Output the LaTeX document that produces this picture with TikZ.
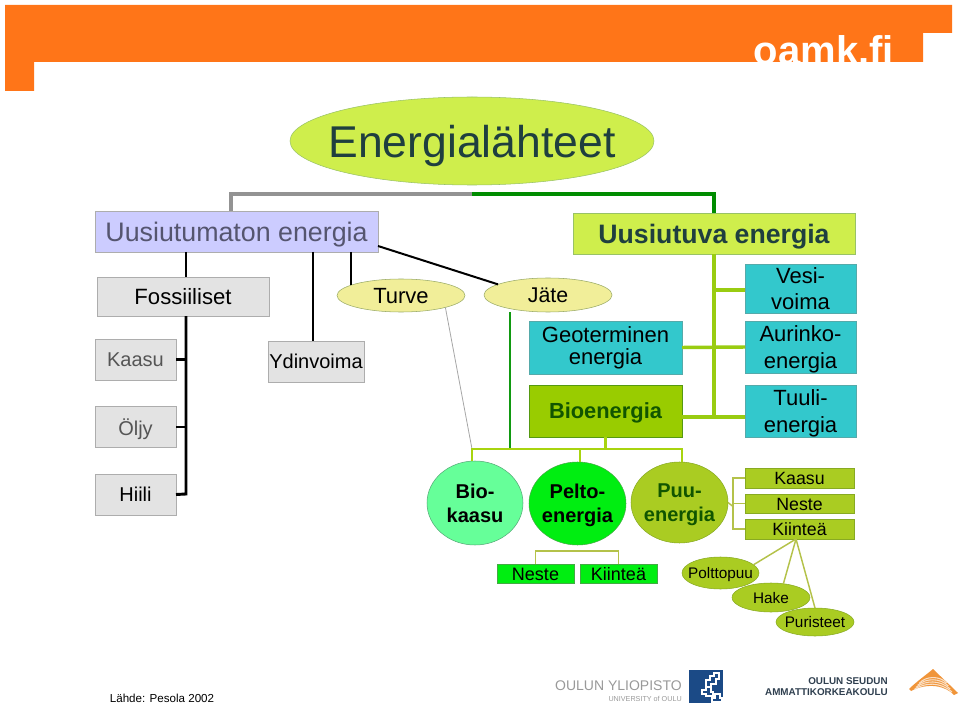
\documentclass[tikz,border=0pt]{standalone}
\usepackage{fontspec}
\setmainfont{Liberation Sans}
\usepackage{tikz}
\usetikzlibrary{shapes.geometric}

\definecolor{bannerorange}{HTML}{FF7518}
\definecolor{limefill}{HTML}{CFEE4C}
\definecolor{limeedge}{HTML}{99C266}
\definecolor{darktext}{HTML}{1F3F3F}
\definecolor{lilacfill}{HTML}{CCCCFF}
\definecolor{lilactext}{HTML}{55556F}
\definecolor{greyfill}{HTML}{E3E3E3}
\definecolor{greyedge}{HTML}{ADADAD}
\definecolor{greytext}{HTML}{555555}
\definecolor{paleyellow}{HTML}{F1EE99}
\definecolor{yellowedge}{HTML}{99AA66}
\definecolor{tealfill}{HTML}{33C8CC}
\definecolor{tealedge}{HTML}{55AAAA}
\definecolor{biofill}{HTML}{99CC00}
\definecolor{bioedge}{HTML}{559911}
\definecolor{biotext}{HTML}{115500}
\definecolor{gasfill}{HTML}{66FF99}
\definecolor{gasedge}{HTML}{55AA77}
\definecolor{fieldfill}{HTML}{00EE11}
\definecolor{fieldedge}{HTML}{44AA44}
\definecolor{woodfill}{HTML}{AACC22}
\definecolor{woodedge}{HTML}{88AA22}
\definecolor{trunkgreen}{HTML}{99CC11}
\definecolor{darkgreen}{HTML}{119911}
\definecolor{olivecolor}{HTML}{B4C24A}
\definecolor{blueblock}{HTML}{1B4A86}
\definecolor{logogrey}{HTML}{999999}
\definecolor{logodark}{HTML}{2F3F4F}
\definecolor{swoosh}{HTML}{F0953A}

\tikzset{
    wh/.style 2 args={minimum width=#1*0.75pt, minimum height=#2*0.75pt},
    basebox/.style={draw, inner sep=0pt, outer sep=0pt, align=center, text depth=0pt},
    baseoval/.style={basebox, ellipse, inner xsep=-60pt, inner ysep=-30pt},
    greybox/.style={basebox, draw=greyedge, fill=greyfill},
    tealbox/.style={basebox, draw=tealedge, fill=tealfill, text=black,
        font=\fontsize{16.5}{20.2}\selectfont},
    woodbox/.style={basebox, draw=woodedge, fill=woodfill, text height=10pt, font=\fontsize{13.3}{15}\selectfont},
    fieldbox/.style={basebox, draw=fieldedge, fill=fieldfill, text height=10pt, font=\fontsize{13.5}{15}\selectfont},
    bigoval/.style={baseoval, font=\fontsize{15}{18}\selectfont\bfseries},
    woodoval/.style={baseoval, draw=woodedge, fill=woodfill, font=\fontsize{11.5}{13}\selectfont},
    yellowoval/.style={baseoval, draw=yellowedge, fill=paleyellow, font=\fontsize{16.5}{19}\selectfont},
    blackline/.style={line width=2.2pt, black},
    thinblack/.style={line width=1.5pt, black},
    limeline/.style={line width=2.6pt, trunkgreen},
    oliverule/.style={line width=1.1pt, olivecolor}
}

\begin{document}
\begin{tikzpicture}[x=0.75pt, y=-0.75pt]
    \useasboundingbox (0,0) rectangle (960,709);
    \fill [bannerorange] (5,5)--(952,5)--(952,33)--(923,33)--(923,62)--(34,62)--(34,91)--(5,91)--cycle;
    \node [anchor=base, text=white, font=\fontsize{30}{30}\selectfont\bfseries, inner sep=0pt] (oamk) at (824,65) {oamk.fi};

    \node [baseoval, draw=limeedge, fill=limefill, text=darktext, wh={364}{88}, font=\fontsize{33.4}{36}\selectfont] (title) at (472,141) {Energialähteet};

    \node [basebox, draw=greyedge, fill=lilacfill, text=lilactext, wh={283}{41}, font=\fontsize{20.1}{24}\selectfont] (uusiutumaton) at (236.5,231.5) {Uusiutumaton energia};
    \node [basebox, draw=limeedge, fill=limefill, text=darktext, wh={282}{41}, font=\fontsize{20}{24}\selectfont\bfseries] (uusiutuva) at (714,233.5) {Uusiutuva energia};

    \node [greybox, wh={172}{39}, font=\fontsize{16.6}{20}\selectfont] (fossiiliset) at (183,296.5) {Fossiiliset};
    \node [greybox, text=greytext, wh={81}{41}, font=\fontsize{15}{18}\selectfont] (kaasuleft) at (135.5,359.5) {Kaasu};
    \node [greybox, text=greytext, wh={81}{41}, font=\fontsize{15}{18}\selectfont] (oljy) at (135.5,427) {Öljy};
    \node [greybox, wh={81}{41}, font=\fontsize{15}{18}\selectfont] (hiili) at (135.5,494.5) {Hiili};
    \node [greybox, wh={96}{41}, font=\fontsize{15}{18}\selectfont] (ydinvoima) at (316,361.5) {Ydinvoima};
    \node [yellowoval, wh={128}{33}] (turve) at (401,295.5) {Turve};
    \node [yellowoval, wh={128}{34}, font=\fontsize{16}{19}\selectfont] (jate) at (548,295) {Jäte};

    \node [tealbox, wh={153}{53}, text depth=3pt, font=\fontsize{16.5}{15.8}\selectfont] (geoterminen) at (605.5,347.5) {Geoterminen\\energia};
    \node [basebox, draw=bioedge, fill=biofill, text=biotext, wh={153}{52}, font=\fontsize{16.4}{20}\selectfont\bfseries] (bioenergia) at (605.5,411) {Bioenergia};
    \node [tealbox, wh={111}{49}] (vesi) at (800.5,288.5) {Vesi-\\voima};
    \node [tealbox, wh={111}{52}] (aurinko) at (800.5,347) {Aurinko-\\energia};
    \node [tealbox, wh={111}{52}] (tuuli) at (800.5,411) {Tuuli-\\energia};

    \node [bigoval, draw=gasedge, fill=gasfill, text=black, wh={96}{84}] (biokaasu) at (475,503) {Bio-\\kaasu};
    \node [bigoval, draw=fieldedge, fill=fieldfill, text=black, wh={97}{83}] (pelto) at (577.5,503.5) {Pelto-\\energia};
    \node [bigoval, draw=woodedge, fill=woodfill, text=biotext, wh={97}{81}] (puu) at (679.5,502.5) {Puu-\\energia};

    \node [woodbox, wh={109}{20}] (kaasuright) at (799.5,478) {Kaasu};
    \node [woodbox, wh={109}{19}] (nesteright) at (799.5,503.5) {Neste};
    \node [woodbox, wh={109}{20}] (kiinteawood) at (799.5,529) {Kiinteä};
    \node [fieldbox, wh={77}{19}] (nestefield) at (535.5,573.5) {Neste};
    \node [fieldbox, wh={77}{19}] (kiinteafield) at (618.5,573.5) {Kiinteä};

    \node [woodoval, wh={77}{32}] (polttopuu) at (720.5,573) {Polttopuu};
    \node [woodoval, wh={78}{29}] (hake) at (771,597.5) {Hake};
    \node [woodoval, wh={78}{28}] (puristeet) at (815,622) {Puristeet};

    \coordinate (fossbus) at (186,494);
    \coordinate (ydinbus) at (313,300);
    \coordinate (turvebus) at (351,285);
    \coordinate (biobus) at (714,417);
    \coordinate (vesibus) at (714,290);
    \coordinate (jatebus) at (510,449);
    \coordinate (brackettop) at (472,449);
    \coordinate (woodbus) at (733,506.5);
    \coordinate (fieldbar) at (577,551);
    \coordinate (kiintearoot) at (796,539);

    \draw [line width=2.4pt, gray!85] (uusiutumaton.north -| 231,0)--(231,194)--(472,194);
    \draw [line width=2.4pt, green!55!black] (472,194)--(714,194)--(uusiutuva.north);

    \draw [blackline] (uusiutumaton.south -| fossbus)--(fossiiliset.north -| fossbus);
    \draw [blackline] (fossiiliset.south -| fossbus)--(fossbus)--(hiili.east);
    \draw [blackline] (kaasuleft.east) -- (kaasuleft.east -| fossbus);
    \draw [blackline] (oljy.east) -- (oljy.east -| fossbus);
    \draw [blackline] (uusiutumaton.south -| ydinbus)--(ydinvoima.north -| ydinbus);
    \draw [thinblack] (uusiutumaton.south -| turvebus)--(turvebus);
    \draw [thinblack] (uusiutumaton.south east)++(0,-6)--(jate.168);

    \draw [limeline] (uusiutuva.south)--(biobus);
    \draw [limeline] (vesi.west |- vesibus)--(vesibus);
    \draw [limeline] (geoterminen.east)--(aurinko.west);
    \draw [limeline] (bioenergia.east |- biobus)--(tuuli.west |- biobus);

    \draw [line width=.6pt, gray!70] (turve.-15)--(brackettop);
    \draw [line width=1.2pt, darkgreen] (jate.south -| jatebus)--(jatebus);
    \draw [line width=1.8pt, trunkgreen!85!yellow] (biokaasu.north -| brackettop)--(brackettop)--(682,449)--(puu.north -| 682,0);
    \draw [line width=1.8pt, trunkgreen!85!yellow] (pelto.north -| 580,0)--(580,449);
    \draw [line width=1.8pt, trunkgreen!85!yellow] (bioenergia.south)--(bioenergia.south |- brackettop);

    \draw [oliverule] (puu.east)--(woodbus);
    \draw [oliverule] (kaasuright.west)--(kaasuright.west -| woodbus)--(kiinteawood.west -| woodbus)--(kiinteawood.west);
    \draw [oliverule] (nesteright.west)--(nesteright.west -| woodbus);
    \draw [oliverule] (nestefield.north)--(nestefield.north |- fieldbar)--(kiinteafield.north |- fieldbar)--(kiinteafield.north);
    \draw [oliverule] (kiintearoot)--(polttopuu.14);
    \draw [oliverule] (kiintearoot)--(hake.48);
    \draw [oliverule] (kiintearoot)--(puristeet.north);

    \node [font=\fontsize{8.7}{11}\selectfont, inner sep=0pt] (lahde) at (162,698.5) {Lähde: Pesola 2002};

    \node [anchor=east, text=logogrey, font=\fontsize{10.5}{13}\selectfont, inner sep=0pt] (oulun) at (682,686) {OULUN YLIOPISTO};
    \node [anchor=east, text=logogrey, font=\fontsize{5.4}{7}\selectfont, inner sep=0pt] (university) at (682,698.5) {UNIVERSITY of OULU};
    \fill [blueblock] (689,670) rectangle (723,703);
    \draw [white, line width=.8pt] (706,680)--(710,680)--(710,676)--(714,676)--(714,673)--(719,673)--(719,679)--(716,679)--(716,684)--(711,684)--(711,687)--(706,687)--cycle;
    \draw [white, line width=.8pt] (702,690)--(706,690)--(706,687.5)--(711,687.5)--(711,692)--(713,692)--(713,696)--(706,696)--(706,694)--(702,694)--cycle;
    \draw [white, line width=.8pt] (712,698)--(715,698)--(715,694)--(720,694)--(720,698)--(722,698)--(722,702)--(712,702)--cycle;

    \node [anchor=east, text=logodark, font=\fontsize{7.4}{9}\selectfont\bfseries, inner sep=0pt] (seudun) at (888,681.5) {OULUN SEUDUN};
    \node [anchor=east, text=logodark, font=\fontsize{7.4}{9}\selectfont\bfseries, inner sep=0pt] (ammatti) at (888,692.5) {AMMATTIKORKEAKOULU};
    \fill [swoosh] (933,669) .. controls (940,676) and (950,685) .. (958,693) -- (954,695) .. controls (946,686) and (928,682) .. (911,691) -- (909,689) .. controls (916,682) and (926,675) .. cycle;
    \foreach \off in {0,3,6,9} {
        \draw [white!70!swoosh, line width=.8pt] (914+\off*.6,689.5-\off*.7) .. controls (926,682-\off*.7) and (940,682-\off*.7) .. (952-\off*.6,692-\off*1);
    }
\end{tikzpicture}
\end{document}
